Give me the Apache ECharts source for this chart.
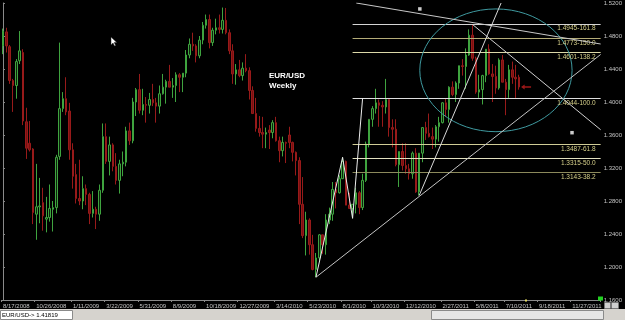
<!DOCTYPE html>
<html><head><meta charset="utf-8">
<script src="https://cdn.jsdelivr.net/npm/echarts@6/dist/echarts.min.js"></script>
<style>html,body{margin:0;padding:0;background:#000;}#c{width:625px;height:320px;}</style>
</head><body><div id="c"></div>
<script>
// weekly categories (Sunday dates)
const weeks = [
'8/17/2008','8/24/2008','8/31/2008','9/7/2008','9/14/2008','9/21/2008','9/28/2008','10/5/2008','10/12/2008','10/19/2008',
'10/26/2008','11/2/2008','11/9/2008','11/16/2008','11/23/2008','11/30/2008','12/7/2008','12/14/2008','12/21/2008','12/28/2008',
'1/4/2009','1/11/2009','1/18/2009','1/25/2009','2/1/2009','2/8/2009','2/15/2009','2/22/2009','3/1/2009','3/8/2009',
'3/15/2009','3/22/2009','3/29/2009','4/5/2009','4/12/2009','4/19/2009','4/26/2009','5/3/2009','5/10/2009','5/17/2009',
'5/24/2009','5/31/2009','6/7/2009','6/14/2009','6/21/2009','6/28/2009','7/5/2009','7/12/2009','7/19/2009','7/26/2009',
'8/2/2009','8/9/2009','8/16/2009','8/23/2009','8/30/2009','9/6/2009','9/13/2009','9/20/2009','9/27/2009','10/4/2009',
'10/11/2009','10/18/2009','10/25/2009','11/1/2009','11/8/2009','11/15/2009','11/22/2009','11/29/2009','12/6/2009','12/13/2009',
'12/20/2009','12/27/2009','1/3/2010','1/10/2010','1/17/2010','1/24/2010','1/31/2010','2/7/2010','2/14/2010','2/21/2010',
'2/28/2010','3/7/2010','3/14/2010','3/21/2010','3/28/2010','4/4/2010','4/11/2010','4/18/2010','4/25/2010','5/2/2010',
'5/9/2010','5/16/2010','5/23/2010','5/30/2010','6/6/2010','6/13/2010','6/20/2010','6/27/2010','7/4/2010','7/11/2010',
'7/18/2010','7/25/2010','8/1/2010','8/8/2010','8/15/2010','8/22/2010','8/29/2010','9/5/2010','9/12/2010','9/19/2010',
'9/26/2010','10/3/2010','10/10/2010','10/17/2010','10/24/2010','10/31/2010','11/7/2010','11/14/2010','11/21/2010','11/28/2010',
'12/5/2010','12/12/2010','12/19/2010','12/26/2010','1/2/2011','1/9/2011','1/16/2011','1/23/2011','1/30/2011','2/6/2011',
'2/13/2011','2/20/2011','2/27/2011','3/6/2011','3/13/2011','3/20/2011','3/27/2011','4/3/2011','4/10/2011','4/17/2011',
'4/24/2011','5/1/2011','5/8/2011','5/15/2011','5/22/2011','5/29/2011','6/5/2011','6/12/2011','6/19/2011','6/26/2011',
'7/3/2011','7/10/2011','7/17/2011','7/24/2011','7/31/2011','8/7/2011','8/14/2011','8/21/2011','8/28/2011','9/4/2011',
'9/11/2011','9/18/2011','9/25/2011','10/2/2011','10/9/2011','10/16/2011','10/23/2011','10/30/2011','11/6/2011','11/13/2011',
'11/20/2011','11/27/2011','12/4/2011','12/11/2011','12/18/2011','12/25/2011','1/1/2012','1/8/2012','1/15/2012','1/22/2012'
];
const tickLabels = ['8/17/2008','10/26/2008','1/11/2009','3/22/2009','5/31/2009','8/9/2009','10/18/2009','12/27/2009',
'3/14/2010','5/23/2010','8/1/2010','10/3/2010','12/12/2010','2/27/2011','5/8/2011','7/10/2011','9/18/2011','11/27/2011'];

const open = [
1.4680,1.4850,1.4670,1.4260,1.4200,1.4500,1.4600,1.3760,1.3500,1.3430,
1.2640,1.2730,1.2780,1.2580,1.2600,1.2700,1.2720,1.3340,1.3920,1.4040,
1.3890,1.3420,1.3120,1.2830,1.2800,1.2950,1.2880,1.2650,1.2700,1.2640,
1.2930,1.3580,1.3280,1.3480,1.3220,1.3050,1.3250,1.3270,1.3650,1.3530,
1.4000,1.4150,1.3900,1.3970,1.3960,1.4030,1.3990,1.3950,1.4100,1.4180,
1.4250,1.4180,1.4200,1.4330,1.4300,1.4350,1.4570,1.4700,1.4680,1.4560,
1.4750,1.4930,1.5000,1.4720,1.4870,1.4900,1.4880,1.4990,1.4840,1.4620,
1.4340,1.4390,1.4320,1.4410,1.4380,1.4140,1.3860,1.3680,1.3630,1.3610,
1.3660,1.3630,1.3750,1.3530,1.3410,1.3510,1.3600,1.3510,1.3390,1.3290,
1.2760,1.2380,1.2570,1.2270,1.1970,1.2110,1.2390,1.2270,1.2570,1.2640,
1.2940,1.2900,1.3070,1.3280,1.2750,1.2710,1.2760,1.2900,1.2720,1.3050,
1.3490,1.3790,1.3920,1.3990,1.3960,1.3940,1.4030,1.3690,1.3670,1.3240,
1.3400,1.3230,1.3190,1.3130,1.3380,1.2910,1.3380,1.3690,1.3620,1.3580,
1.3550,1.3700,1.3750,1.3990,1.3910,1.4180,1.4090,1.4230,1.4440,1.4430,
1.4570,1.4810,1.4530,1.4120,1.4150,1.4320,1.4640,1.4340,1.4310,1.4170,
1.4510,1.4240,1.4150,1.4390,1.4300,1.4300
];
const high = [
1.4890,1.4900,1.4690,1.4280,1.4520,1.4860,1.4640,1.3930,1.3770,1.3440,
1.3250,1.3080,1.2960,1.2850,1.3000,1.2800,1.3360,1.4720,1.4120,1.4300,
1.3990,1.3500,1.3250,1.3300,1.3100,1.3000,1.2900,1.2920,1.2730,1.3000,
1.3740,1.3740,1.3580,1.3500,1.3380,1.3300,1.3400,1.3700,1.3750,1.4050,
1.4170,1.4340,1.4160,1.4060,1.4110,1.4220,1.4050,1.4200,1.4340,1.4270,
1.4450,1.4290,1.4360,1.4350,1.4350,1.4630,1.4770,1.4840,1.4700,1.4800,
1.4970,1.5060,1.5060,1.4900,1.5010,1.5060,1.5145,1.5140,1.4880,1.4700,
1.4460,1.4510,1.4480,1.4580,1.4420,1.4190,1.4050,1.3830,1.3820,1.3690,
1.3720,1.3780,1.3820,1.3580,1.3580,1.3520,1.3700,1.3520,1.3400,1.3330,
1.3090,1.2670,1.2590,1.2390,1.2170,1.2400,1.2390,1.2640,1.2720,1.3030,
1.3030,1.3110,1.3330,1.3290,1.2900,1.2760,1.2960,1.2920,1.3130,1.3520,
1.3790,1.3950,1.4160,1.4030,1.4010,1.4280,1.4030,1.3790,1.3790,1.3400,
1.3500,1.3500,1.3250,1.3400,1.3440,1.3380,1.3690,1.3760,1.3860,1.3690,
1.3720,1.3820,1.4000,1.4040,1.4190,1.4250,1.4250,1.4440,1.4520,1.4650,
1.4880,1.4940,1.4550,1.4330,1.4330,1.4640,1.4700,1.4460,1.4440,1.4530,
1.4570,1.4280,1.4450,1.4490,1.4450,1.4330
];
const low = [
1.4580,1.4600,1.4220,1.3880,1.4040,1.4460,1.3720,1.3310,1.3400,1.2520,
1.2330,1.2530,1.2440,1.2420,1.2550,1.2430,1.2650,1.3300,1.3880,1.3840,
1.3300,1.2950,1.2770,1.2750,1.2700,1.2750,1.2520,1.2600,1.2460,1.2560,
1.2900,1.3250,1.3110,1.3160,1.3000,1.2890,1.3100,1.3220,1.3480,1.3500,
1.3830,1.3860,1.3840,1.3750,1.3860,1.3950,1.3750,1.3860,1.4090,1.3980,
1.4180,1.4050,1.4000,1.4120,1.4120,1.4300,1.4530,1.4620,1.4480,1.4530,
1.4700,1.4890,1.4650,1.4680,1.4820,1.4830,1.4830,1.4820,1.4580,1.4220,
1.4210,1.4300,1.4260,1.4360,1.4030,1.3860,1.3640,1.3580,1.3440,1.3440,
1.3430,1.3560,1.3520,1.3270,1.3340,1.3260,1.3440,1.3280,1.3110,1.2520,
1.2350,1.2140,1.2150,1.1960,1.1876,1.2080,1.2160,1.2150,1.2520,1.2560,
1.2710,1.2890,1.3070,1.2750,1.2710,1.2590,1.2650,1.2640,1.2690,1.3030,
1.3450,1.3700,1.3860,1.3700,1.3700,1.3860,1.3580,1.3450,1.3220,1.2970,
1.3170,1.3130,1.3060,1.3070,1.2900,1.2867,1.3270,1.3540,1.3570,1.3430,
1.3450,1.3520,1.3740,1.3820,1.3750,1.4070,1.4000,1.4160,1.4320,1.4160,
1.4560,1.4500,1.4100,1.4050,1.3970,1.4240,1.4330,1.4000,1.4100,1.4150,
1.4240,1.3840,1.4050,1.4220,1.4050,1.4150
];
const close = [
1.4860,1.4680,1.4260,1.4200,1.4490,1.4620,1.3770,1.3440,1.3420,1.2660,
1.2730,1.2740,1.2620,1.2600,1.2710,1.2720,1.3330,1.3920,1.4040,1.3880,
1.3420,1.3100,1.2830,1.2800,1.2950,1.2880,1.2650,1.2700,1.2640,1.2930,
1.3580,1.3280,1.3480,1.3220,1.3050,1.3250,1.3270,1.3650,1.3530,1.4000,
1.4150,1.3900,1.3970,1.3960,1.4030,1.3990,1.3950,1.4100,1.4180,1.4250,
1.4180,1.4200,1.4330,1.4300,1.4350,1.4570,1.4700,1.4680,1.4560,1.4750,
1.4930,1.5000,1.4720,1.4870,1.4900,1.4880,1.4990,1.4840,1.4620,1.4340,
1.4390,1.4320,1.4410,1.4380,1.4140,1.3860,1.3680,1.3630,1.3610,1.3630,
1.3630,1.3750,1.3530,1.3410,1.3510,1.3500,1.3510,1.3390,1.3290,1.2760,
1.2380,1.2570,1.2270,1.1970,1.2110,1.2390,1.2270,1.2570,1.2640,1.2940,
1.2900,1.3070,1.3280,1.2750,1.2710,1.2760,1.2900,1.2720,1.3050,1.3490,
1.3790,1.3920,1.3990,1.3960,1.3940,1.4030,1.3690,1.3670,1.3240,1.3400,
1.3230,1.3190,1.3130,1.3380,1.2910,1.3380,1.3690,1.3620,1.3580,1.3550,
1.3700,1.3750,1.3990,1.3910,1.4180,1.4090,1.4230,1.4440,1.4430,1.4570,
1.4810,1.4530,1.4120,1.4150,1.4320,1.4640,1.4340,1.4310,1.4170,1.4510,
1.4240,1.4150,1.4390,1.4300,1.4280,1.4182
];

// Fibonacci levels (price) and their labels
const fibLevels = [1.4945, 1.4773, 1.4601, 1.4044, 1.3487, 1.3315, 1.3143];
const fibLabels = ['1.4945-161.8','1.4773-150.0','1.4601-138.2','1.4044-100.0','1.3487-61.8','1.3315-50.0','1.3143-38.2'];
const fibStart = 105;      // week index where fib lines begin
const axisEnd = 179.5;     // right edge of the plot in week units

// trendlines: [weekIndex, price]
const trendTop = [[106.1, 1.5200], [179.5, 1.4703]];
const trendPeak = [[141, 1.4940], [179.5, 1.3664]];
const trendLow = [[94, 1.1876], [179.5, 1.4576]];
const trendJan = [[125, 1.2867], [149.6, 1.5200]];
const zigzag = [[94, 1.1876], [102, 1.3330], [105, 1.2590], [108, 1.4044]];
// ellipse: centre week, centre price, radius weeks, radius price
const ellipse = [[148.05, 1.4384, 22.87, 0.0744]];
const handles = [[125.2, 1.5128], [170.9, 1.3628]];
const arrowAt = [[157.1, 1.4182]];
const lastPrice = '1.41819';

const candleData = open.map((o, i) => [o, close[i], low[i], high[i]]);
const FONT = 'Liberation Sans';

const chart = echarts.init(document.getElementById('c'), null, {renderer: 'canvas'});
const fibColors = ['#d4d4d4', '#b4ac78', '#dcd8a8', '#dedede', '#d0cc96', '#e2e0c0', '#8c8a5c'];

function tl(data, color) {
  return {type: 'line', xAxisIndex: 1, data: data, showSymbol: false, silent: true,
    lineStyle: {color: color, width: 1}, z: 5};
}

chart.setOption({
  backgroundColor: '#000',
  animation: false,
  title: {text: 'EUR/USD\nWeekly', left: 264, top: 66,
    textStyle: {color: '#fff', fontSize: 8, fontWeight: 'bold', lineHeight: 10, fontFamily: FONT}},
  grid: {left: -2.2, right: 21, top: 0, bottom: 20},
  xAxis: [{
    type: 'category', data: weeks, boundaryGap: true,
    axisLine: {lineStyle: {color: '#8a8a8a'}},
    axisTick: {show: true, length: 2, interval: (i, v) => tickLabels.includes(v), lineStyle: {color: '#8a8a8a'}},
    axisLabel: {interval: (i, v) => tickLabels.includes(v), align: 'left', color: '#c4c4c4', fontSize: 6, margin: 3, fontFamily: FONT},
    splitLine: {show: false}
  }, {
    type: 'value', min: -0.5, max: 179.5, show: false
  }],
  yAxis: {
    type: 'value', position: 'right', min: 1.16, max: 1.52, interval: 0.04, scale: true,
    axisLine: {show: true, lineStyle: {color: '#8a8a8a'}},
    axisTick: {show: true, length: 2, lineStyle: {color: '#8a8a8a'}},
    axisLabel: {formatter: v => v.toFixed(4), color: '#c4c4c4', fontSize: 6, margin: 3, fontFamily: FONT},
    splitLine: {show: false}
  },
  series: [
    {
      type: 'candlestick', data: candleData, barWidth: 2,
      itemStyle: {color: '#0d220d', color0: '#7a1010', borderColor: '#3fa43f', borderColor0: '#981a1a', borderWidth: 1},
      markLine: {
        symbol: 'none', silent: true, animation: false,
        lineStyle: {opacity: 0},
        data: [{yAxis: close[close.length - 1]}],
        label: {position: 'end', distance: 0, formatter: p => p.value.toFixed(4), color: '#000',
          backgroundColor: '#fff', padding: [1, 2, 0, 2], fontSize: 6, fontFamily: FONT}
      }
    },
    {
      type: 'line', xAxisIndex: 1, data: [], silent: true, z: 4,
      markLine: {
        symbol: 'none', silent: true, animation: false,
        data: fibLevels.map((p, i) => [
          {coord: [fibStart, p], lineStyle: {color: fibColors[i], width: 1, type: 'solid'},
           label: {show: true, position: 'insideEndBottom', distance: [5, 1], formatter: fibLabels[i],
             color: '#d6d08a', fontSize: 6.5, fontFamily: FONT}},
          {coord: [axisEnd, p]}
        ])
      }
    },
    tl(trendTop, '#c8c8c8'),
    tl(trendPeak, '#d0d0d0'),
    tl(trendLow, '#c4c4c4'),
    tl(trendJan, '#d8d8d8'),
    tl(zigzag, '#ececec'),
    {
      type: 'custom', xAxisIndex: 1, data: ellipse, encode: {x: 0, y: 1}, silent: true, z: 5,
      renderItem: (params, api) => {
        const c = api.coord([api.value(0), api.value(1)]);
        const s = api.size([api.value(2), api.value(3)]);
        return {type: 'ellipse', shape: {cx: c[0], cy: c[1], rx: s[0], ry: s[1]},
          style: {fill: null, stroke: '#3f9aa0', lineWidth: 1}};
      }
    },
    {type: 'scatter', xAxisIndex: 1, data: handles, symbol: 'rect', symbolSize: 3.5, silent: true, z: 6,
      itemStyle: {color: '#ffffff'}},
    {type: 'scatter', xAxisIndex: 1, data: arrowAt, silent: true, z: 6,
      symbol: 'path://M0,5 L5,0 L5,3.6 L14,3.6 L14,6.4 L5,6.4 L5,10 Z', symbolSize: [10, 5],
      itemStyle: {color: '#c41e1e'}}
  ],
  graphic: [
    {type: 'polygon', shape: {points: [[111,37],[111,45],[113,43],[114.5,46],[115.7,45.4],[114.2,42.4],[116.8,42.4]]},
      style: {fill: '#fff', stroke: '#222', lineWidth: 0.5}, z: 20},
    {type: 'rect', shape: {x: 0, y: 309, width: 625, height: 11}, style: {fill: '#d6d3ce'}, z: 10},
    {type: 'rect', shape: {x: 0.5, y: 310.5, width: 72, height: 9}, style: {fill: '#ffffff', stroke: '#8a8a8a', lineWidth: 1}, z: 11},
    {type: 'text', x: 2, y: 315.3, style: {text: 'EUR/USD-> ' + lastPrice, fill: '#000', fontSize: 6, fontFamily: FONT, verticalAlign: 'middle'}, z: 12},
    {type: 'rect', shape: {x: 431.5, y: 310.5, width: 172, height: 9}, style: {fill: '#e6e6e6', stroke: '#8a8a8a', lineWidth: 1}, z: 11},
    {type: 'rect', shape: {x: 604.5, y: 302.5, width: 6, height: 6}, style: {fill: '#cfcfcf', stroke: '#888', lineWidth: 0.5}, z: 11},
    {type: 'rect', shape: {x: 611.5, y: 302.5, width: 7, height: 6}, style: {fill: '#cfcfcf', stroke: '#888', lineWidth: 0.5}, z: 11},
    {type: 'rect', shape: {x: 598, y: 296.5, width: 5, height: 4}, style: {fill: '#22d022'}, z: 11},
    {type: 'rect', shape: {x: 525, y: 299.5, width: 2, height: 2}, style: {fill: '#e8e060'}, z: 11}
  ]
});
</script></body></html>
